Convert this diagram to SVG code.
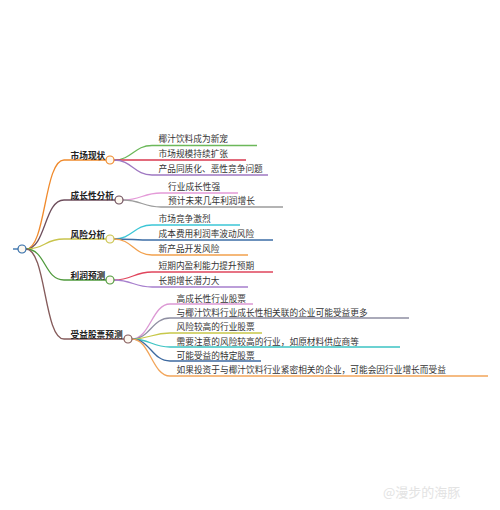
<svg xmlns="http://www.w3.org/2000/svg" width="500" height="510" viewBox="0 0 500 510">
<style>
text{font-family:"Noto Sans CJK SC","Noto Sans CJK TC",sans-serif;font-size:8.7px;fill:#333}
.b{font-weight:bold;fill:#222}
path{fill:none;stroke-width:1.3}
circle{fill:#fdf8f0;stroke-width:1.2}
</style>
<rect width="500" height="510" fill="#fff"/>
<g id="connectors">
<path d="M26,249 C46,249 44,160 64,160 H106" stroke="#f08a2c"/>
<path d="M26,249 C46,249 44,200 64,200 H115" stroke="#6e4e5c"/>
<path d="M26,249 C46,249 44,239 64,239 H106" stroke="#c9c44c"/>
<path d="M26,249 C46,249 44,280 64,280 H106" stroke="#4f9a3c"/>
<path d="M26,249 C46,249 44,339 64,339 H124" stroke="#855b5b"/>
<path d="M114,160 C132,160 134,145.5 152,145.5 H257" stroke="#6cb85a"/>
<path d="M114,160 C132,160 134,160 152,160 H246" stroke="#d9384f"/>
<path d="M114,160 C132,160 134,175 152,175 H268" stroke="#9f78c2"/>
<path d="M123,200 C141,200 143,193 161,193 H238" stroke="#e49ad8"/>
<path d="M123,200 C141,200 143,207 161,207 H283" stroke="#9c9c9c"/>
<path d="M114,239 C132,239 134,225 152,225 H240" stroke="#3cc6d6"/>
<path d="M114,239 C132,239 134,240 152,240 H273" stroke="#3d6ea6"/>
<path d="M114,239 C132,239 134,255 152,255 H248" stroke="#f2a14e"/>
<path d="M114,280 C132,280 134,272 152,272 H273" stroke="#e0455c"/>
<path d="M114,280 C132,280 134,287 152,287 H248" stroke="#a77fcd"/>
<path d="M132,339 C150,339 152,304 170,304 H253" stroke="#dc98d4"/>
<path d="M132,339 C150,339 152,318 170,318 H409" stroke="#8f8fa2"/>
<path d="M132,339 C150,339 152,333 170,333 H262" stroke="#c7c84a"/>
<path d="M132,339 C150,339 152,347 170,347 H400" stroke="#3cc4c4"/>
<path d="M132,339 C150,339 152,361 170,361 H261" stroke="#3e6aa0"/>
<path d="M132,339 C150,339 152,376 170,376 H488" stroke="#f2a55a"/>
<path d="M13,249 H18" stroke="#2e6aa8" stroke-width="2.5"/>
</g>
<g id="root"><circle cx="22" cy="249" r="4" stroke="#2e6aa8" fill="#fff"/></g>
<g id="n1"><text class="b" x="70.5" y="158.5">市场现状</text><circle cx="110" cy="160" r="4" stroke="#f08a2c"/></g>
<g id="n2"><text class="b" x="70.5" y="198.5">成长性分析</text><circle cx="119" cy="200" r="4" stroke="#6e4e5c"/></g>
<g id="n3"><text class="b" x="70.5" y="237.5">风险分析</text><circle cx="110" cy="239" r="4" stroke="#c9c44c"/></g>
<g id="n4"><text class="b" x="70.5" y="278.5">利润预测</text><circle cx="110" cy="280" r="4" stroke="#4f9a3c"/></g>
<g id="n5"><text class="b" x="70.5" y="337.5">受益股票预测</text><circle cx="128" cy="339" r="4" stroke="#855b5b"/></g>
<g id="c1a"><text x="158.5" y="142.3">椰汁饮料成为新宠</text></g>
<g id="c1b"><text x="158.5" y="157.3">市场规模持续扩张</text></g>
<g id="c1c"><text x="158.5" y="171.8">产品同质化、恶性竞争问题</text></g>
<g id="c2a"><text x="168" y="190.3">行业成长性强</text></g>
<g id="c2b"><text x="168" y="204.3">预计未来几年利润增长</text></g>
<g id="c3a"><text x="158.5" y="222.3">市场竞争激烈</text></g>
<g id="c3b"><text x="158.5" y="237.3">成本费用利润率波动风险</text></g>
<g id="c3c"><text x="158.5" y="251.8">新产品开发风险</text></g>
<g id="c4a"><text x="158.5" y="269.3">短期内盈利能力提升预期</text></g>
<g id="c4b"><text x="158.5" y="284.3">长期增长潜力大</text></g>
<g id="c5a"><text x="176.5" y="302.3">高成长性行业股票</text></g>
<g id="c5b"><text x="176.5" y="316.3">与椰汁饮料行业成长性相关联的企业可能受益更多</text></g>
<g id="c5c"><text x="176.5" y="330.3">风险较高的行业股票</text></g>
<g id="c5d"><text x="176.5" y="345.3">需要注意的风险较高的行业，如原材料供应商等</text></g>
<g id="c5e"><text x="176.5" y="359.3">可能受益的特定股票</text></g>
<g id="c5f"><text x="176.5" y="373.3">如果投资于与椰汁饮料行业紧密相关的企业，可能会因行业增长而受益</text></g>
<g id="watermark"><text x="383" y="497" style="font-size:13px;fill:#e3e3e3">@漫步的海豚</text></g>
</svg>
